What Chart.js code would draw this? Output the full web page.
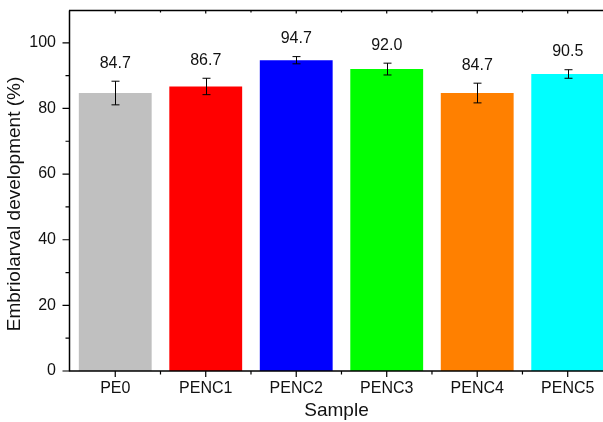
<!DOCTYPE html>
<html><head><meta charset="utf-8">
<script src="https://cdn.jsdelivr.net/npm/chart.js@4"></script>
<style>html,body{margin:0;padding:0;background:#fff}</style>
</head><body>
<canvas id="c" width="603" height="422" style="width:603px;height:422px;display:block"></canvas>
<script>
const categories = ['PE0', 'PENC1', 'PENC2', 'PENC3', 'PENC4', 'PENC5'];
const values = [84.7, 86.7, 94.7, 92.0, 84.7, 90.5];
const errors = [3.6, 2.5, 1.1, 1.8, 3.0, 1.3];
const barColors = ['#c0c0c0', '#ff0000', '#0000ff', '#00ff00', '#ff8000', '#00ffff'];
const yTicks = [0, 20, 40, 60, 80, 100];
const yMinorTicks = [10, 30, 50, 70, 90];
const xTitle = 'Sample';
const yTitle = 'Embriolarval development (%)';

const FONT = '"Liberation Sans", Arial, sans-serif';

const axesPlugin = {
  id: 'axesPlugin',
  afterDatasetsDraw(chart) {
    const ctx = chart.ctx;
    const xs = chart.scales.x, ys = chart.scales.y;
    const ca = chart.chartArea;
    ctx.save();
    // error bars
    ctx.strokeStyle = '#000';
    ctx.lineWidth = 1;
    values.forEach((v, i) => {
      const x = Math.round(xs.getPixelForValue(i)) + 0.5;
      const yt = ys.getPixelForValue(v + errors[i]);
      const yb = ys.getPixelForValue(v - errors[i]);
      ctx.beginPath();
      ctx.moveTo(x, yt); ctx.lineTo(x, yb);
      ctx.moveTo(x - 4, yt); ctx.lineTo(x + 4, yt);
      ctx.moveTo(x - 4, yb); ctx.lineTo(x + 4, yb);
      ctx.stroke();
      // value label
      ctx.fillStyle = '#111';
      ctx.font = '16px ' + FONT;
      ctx.textAlign = 'center';
      ctx.textBaseline = 'middle';
      ctx.fillText(v.toFixed(1), xs.getPixelForValue(i), yt - 18);
    });
    // axes
    ctx.lineWidth = 1.5;
    ctx.strokeStyle = '#000';
    const L = ca.left - 0.5, B = ca.bottom, T = ca.top + 0.5;
    ctx.beginPath();
    ctx.moveTo(L, T); ctx.lineTo(L, B + 0.5);
    ctx.moveTo(L - 0.5, B); ctx.lineTo(ca.right, B);
    ctx.moveTo(L - 0.5, T); ctx.lineTo(ca.right, T);
    ctx.stroke();
    // y ticks
    ctx.lineWidth = 1.2;
    ctx.beginPath();
    yTicks.forEach(t => { const y = ys.getPixelForValue(t); ctx.moveTo(L, y); ctx.lineTo(L - 7, y); });
    yMinorTicks.forEach(t => { const y = ys.getPixelForValue(t); ctx.moveTo(L, y); ctx.lineTo(L - 4, y); });
    // x ticks (major at categories, minor between)
    categories.forEach((c, i) => {
      const x = xs.getPixelForValue(i);
      ctx.moveTo(x, B); ctx.lineTo(x, B + 6);
      ctx.moveTo(x, T); ctx.lineTo(x, T + 3);
      const xm = xs.getPixelForValue(i + 0.5);
      if (xm < ca.right) {
        ctx.moveTo(xm, B); ctx.lineTo(xm, B + 3.5);
        ctx.moveTo(xm, T); ctx.lineTo(xm, T + 2);
      }
    });
    ctx.stroke();
    // y axis title
    ctx.save();
    ctx.translate(15, 204);
    ctx.rotate(-Math.PI / 2);
    ctx.fillStyle = '#111';
    ctx.font = '19px ' + FONT;
    ctx.textAlign = 'center';
    ctx.textBaseline = 'middle';
    ctx.fillText(yTitle, 0, 0);
    ctx.restore();
    ctx.restore();
  }
};

new Chart(document.getElementById('c'), {
  type: 'bar',
  data: {
    datasets: [{
      data: categories.map((c, i) => ({ x: i, y: values[i] })),
      backgroundColor: barColors,
      borderWidth: 0,
      barPercentage: 0.805,
      categoryPercentage: 1
    }]
  },
  options: {
    responsive: false,
    animation: false,
    devicePixelRatio: 1,
    layout: { padding: { top: 10, right: 0, left: 0, bottom: 0 } },
    plugins: { legend: { display: false }, tooltip: { enabled: false } },
    scales: {
      x: {
        type: 'linear',
        min: -0.5,
        max: 5.39,
        offset: false,
        grid: { display: false, drawTicks: false },
        border: { display: false },
        afterBuildTicks: s => { s.ticks = categories.map((c, i) => ({ value: i })); },
        afterFit: s => { s.height = 51; s.paddingLeft = 0; s.paddingRight = 0; },
        ticks: {
          autoSkip: false,
          maxRotation: 0,
          padding: 8,
          color: '#111',
          font: { family: FONT, size: 16 },
          callback: v => categories[v]
        },
        title: {
          display: true, text: xTitle, color: '#111',
          font: { family: FONT, size: 19 },
          padding: { top: 0, bottom: 0 }
        }
      },
      y: {
        min: 0,
        max: 110,
        grid: { display: false, drawTicks: false },
        border: { display: false },
        afterBuildTicks: s => { s.ticks = yTicks.map(v => ({ value: v })); },
        afterFit: s => { s.width = 70; s.paddingTop = 0; s.paddingBottom = 0; },
        ticks: {
          padding: 14,
          color: '#111',
          font: { family: FONT, size: 16 }
        },
        title: { display: false }
      }
    }
  },
  plugins: [axesPlugin]
});
</script>
</body></html>
